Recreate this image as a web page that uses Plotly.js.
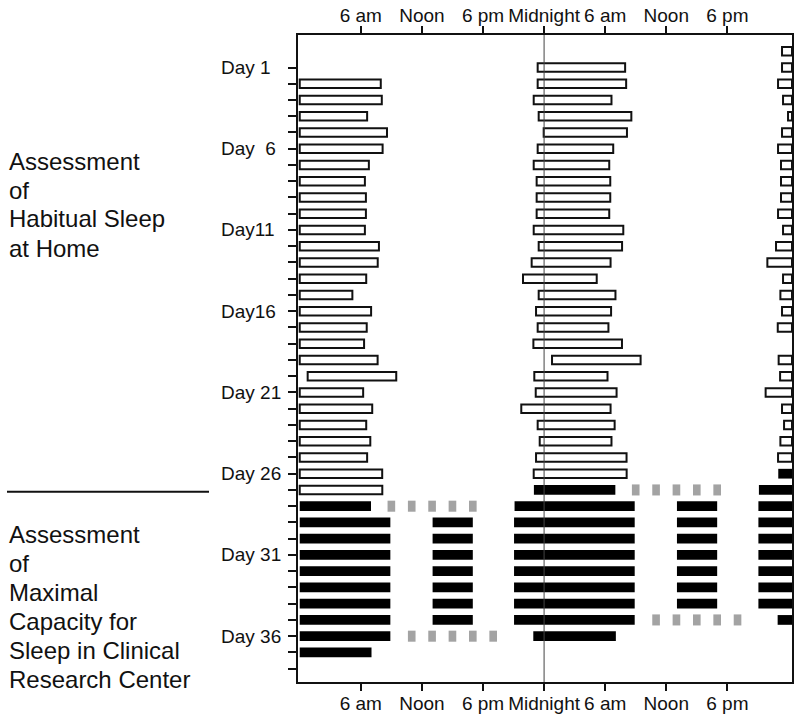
<!DOCTYPE html>
<html><head><meta charset="utf-8">
<script src="https://cdn.plot.ly/plotly-3.0.1.min.js"></script>
<style>html,body{margin:0;padding:0;background:#fff;} #chart{width:800px;height:717px;}</style>
</head><body><div id="chart"></div>
<script>
// ---- Data (clock hours) ----
// Habitual sleep at home: nights of days 1..26
const homeDays = [1,2,3,4,5,6,7,8,9,10,11,12,13,14,15,16,17,18,19,20,21,22,23,24,25,26];
// sleep onset clock hour on that evening (values > 24 = after midnight)
const homeOnset = [23.37,23.37,22.98,23.47,23.96,23.37,22.98,23.27,23.27,23.27,22.98,23.47,22.78,21.93,23.47,23.21,23.37,22.95,24.78,23.04,23.18,21.76,23.37,23.57,23.21,22.98];
// wake clock hour next morning
const homeWake = [7.96,8.06,6.62,8.57,8.14,6.79,6.40,6.50,6.50,6.40,7.78,7.66,6.53,5.17,7.01,6.58,6.32,7.65,9.48,6.23,7.12,6.53,6.93,6.62,8.10,8.11];

// Clinical Research Center: nightly sleep opportunities
const crcDays = [27,28,29,30,31,32,33,34,35,36];
const crcOnset = [23.00,21.10,21.05,21.05,21.05,21.05,21.05,21.05,21.05,22.94];
const crcWake = [7.00,8.90,8.90,8.90,8.90,8.90,8.90,8.90,8.90,7.05];
// afternoon sleep opportunities
const napDays = [29,30,31,32,33,34,35];
const napStart = [13.05,13.05,13.05,13.05,13.05,13.05,13.05];
const napEnd = [17.00,17.00,17.00,17.00,17.00,17.00,17.00];
// grey dotted markers
const dotDays = [28,28,28,28,28,36,36,36,36,36];
const dotHours = [9,11,13,15,17,11,13,15,17,19];

// axes
const tickHours = [6,12,18,24,30,36,42];
const tickLabels = ['6 am','Noon','6 pm','Midnight','6 am','Noon','6 pm'];
const dayTicks = [1,2,3,4,5,6,7,8,9,10,11,12,13,14,15,16,17,18,19,20,21,22,23,24,25,26,27,28,29,30,31,32,33,34,35,36,37,38];
const dayLabelDays = [1,6,11,16,21,26,31,36];
const dayLabelText = ['Day 1','Day\u00a0 6','Day11','Day16','Day 21','Day 26','Day 31','Day 36'];
const panelText1 = ['Assessment','of','Habitual Sleep','at Home'];
const panelText2 = ['Assessment','of','Maximal','Capacity for','Sleep in Clinical','Research Center'];

// ---- Geometry ----
const X_MIN = -0.17, X_MAX = 48.35;
const Y_TOP = -1.0, Y_BOTTOM = 38.82;
const W = 800, H = 717, ML = 298, MR = 8, MT = 35, MB = 35;
const PW = W - ML - MR, PH = H - MT - MB;
const px2x = p => (p - ML) / PW;
const py2y = p => 1 - (p - MT) / PH;

// double plot: row r shows day r (0-24) and day r+1 (24-48)
function doublePlot(days, starts, ends) {
  const y = [], base = [], len = [];
  days.forEach((d, i) => {
    for (let r = d - 1; r <= d + 1; r++) {
      if (r < 0) continue;
      const off = (d - r) * 24;
      const a = Math.max(starts[i] + off, 0);
      const b = Math.min(ends[i] + off, X_MAX);
      if (b > a) { y.push(r); base.push(a); len.push(b - a); }
    }
  });
  return {y, base, len};
}

const home = doublePlot(homeDays, homeOnset, homeWake.map(w => w + 24));
const crc = doublePlot(crcDays, crcOnset, crcWake.map(w => w + 24));
const nap = doublePlot(napDays, napStart, napEnd);
const dots = doublePlot(dotDays, dotHours.map(h => h - 0.375), dotHours.map(h => h + 0.375));

const traces = [
  {type:'bar', orientation:'h', y:home.y, x:home.len, base:home.base, width:0.52,
   marker:{color:'#ffffff', line:{color:'#111', width:2}}, hoverinfo:'skip'},
  {type:'bar', orientation:'h', y:crc.y.concat(nap.y), x:crc.len.concat(nap.len), base:crc.base.concat(nap.base), width:0.6,
   marker:{color:'#000000', line:{width:0}}, hoverinfo:'skip'},
  {type:'bar', orientation:'h', y:dots.y, x:dots.len, base:dots.base, width:0.68, xaxis:'x2',
   marker:{color:'#a3a3a3', line:{width:0}}, hoverinfo:'skip'}
];

const axisCommon = {
  range:[X_MIN, X_MAX], tickmode:'array', tickvals:tickHours, ticktext:tickLabels,
  ticks:'outside', ticklen:7, tickwidth:2, tickcolor:'#111', ticklabelstandoff:-4,
  showline:true, linewidth:2, linecolor:'#111', showgrid:false, zeroline:false, fixedrange:true,
  tickfont:{size:19, color:'#111'}
};

const annotations = [];
dayLabelDays.forEach((d, i) => annotations.push({
  xref:'paper', yref:'y', x:px2x(219), y:d, xanchor:'left', yanchor:'middle',
  text:dayLabelText[i], showarrow:false, font:{size:19, color:'#111'}
}));
const base1 = [169.3,198.3,227.3,256.7];
panelText1.forEach((t, i) => annotations.push({
  xref:'paper', yref:'paper', x:px2x(7), y:py2y(base1[i] - 8.3), xanchor:'left', yanchor:'middle',
  text:t, showarrow:false, font:{size:24, color:'#111'}
}));
const base2 = [542.7,571.7,600.7,629.5,658.3,687.3];
panelText2.forEach((t, i) => annotations.push({
  xref:'paper', yref:'paper', x:px2x(7), y:py2y(base2[i] - 8.3), xanchor:'left', yanchor:'middle',
  text:t, showarrow:false, font:{size:24, color:'#111'}
}));

const layout = {
  width:W, height:H,
  margin:{l:ML, r:MR, t:MT, b:MB, pad:0},
  paper_bgcolor:'#ffffff', plot_bgcolor:'#ffffff',
  barmode:'overlay', showlegend:false,
  font:{family:'"Liberation Sans", Arial, Helvetica, sans-serif', size:19, color:'#111'},
  xaxis:Object.assign({}, axisCommon, {side:'bottom', anchor:'y'}),
  xaxis2:Object.assign({}, axisCommon, {side:'top', anchor:'y', overlaying:'x', matches:'x'}),
  yaxis:{range:[Y_BOTTOM, Y_TOP], tickmode:'array', tickvals:dayTicks, ticktext:dayTicks.map(() => ''),
    ticks:'outside', ticklen:8, tickwidth:2, tickcolor:'#111',
    showline:true, mirror:true, linewidth:2, linecolor:'#111', showgrid:false, zeroline:false, fixedrange:true},
  shapes:[
    {type:'line', xref:'x', yref:'paper', x0:24, x1:24, y0:0, y1:1, layer:'above', line:{color:'#444', width:1}},
    {type:'line', xref:'paper', yref:'paper', x0:px2x(7), x1:px2x(209), y0:py2y(491.7), y1:py2y(491.7), line:{color:'#111', width:2}}
  ],
  annotations:annotations
};

Plotly.newPlot('chart', traces, layout, {displayModeBar:false, staticPlot:true});
</script>
</body></html>
